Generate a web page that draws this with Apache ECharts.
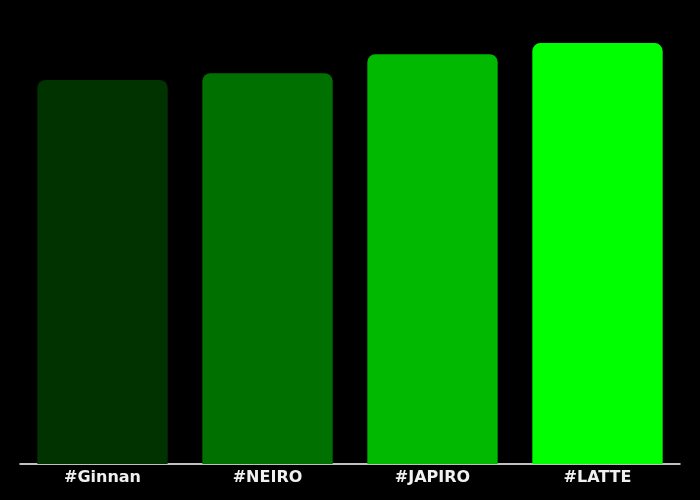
<!DOCTYPE html>
<html><head><meta charset="utf-8">
<script src="https://cdn.jsdelivr.net/npm/echarts@6/dist/echarts.min.js"></script>
<style>html,body{margin:0;padding:0;background:#000;}#c{width:700px;height:500px;}</style>
</head><body><div id="c"></div>
<script>
const categories = ["#Ginnan", "#NEIRO", "#JAPIRO", "#LATTE"];
const values = [86.5, 88.0, 92.3, 94.8];
const colors = ["#003300", "#007000", "#00b900", "#00ff00"];
const chart = echarts.init(document.getElementById('c'));
chart.setOption({
  backgroundColor: '#000',
  animation: false,
  grid: {left: 20, right: 20, top: 20, bottom: 36, containLabel: false},
  xAxis: {
    type: 'category', data: categories,
    axisLine: {lineStyle: {color: '#fff', width: 1.5}},
    axisTick: {show: false},
    axisLabel: {color: '#f0f0f0', fontSize: 16, fontWeight: 'bold', fontFamily: 'DejaVu Sans', margin: 6}
  },
  yAxis: {type: 'value', min: 0, max: 100, show: false, splitLine: {show: false}},
  series: [{
    type: 'bar', barWidth: '79%',
    data: values.map((v, i) => ({value: v, itemStyle: {color: colors[i]}})),
    itemStyle: {borderRadius: [8, 8, 0, 0]}
  }]
});
</script></body></html>
